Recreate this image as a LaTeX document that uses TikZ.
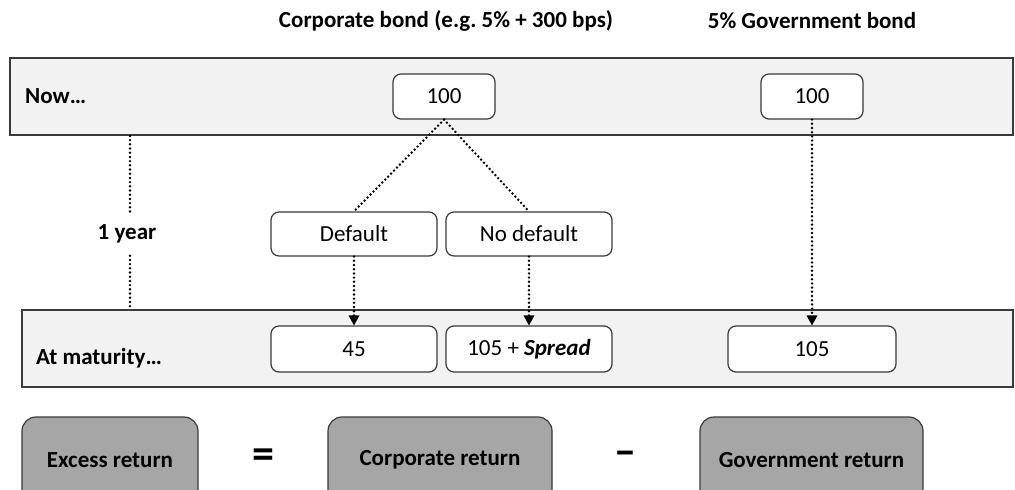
\documentclass[tikz,border=0pt]{standalone}
\usepackage{fontspec}
\setmainfont{Carlito}
\usetikzlibrary{arrows.meta,calc}
\definecolor{bandfill}{HTML}{F2F2F2}
\definecolor{edge}{HTML}{3A3A3A}
\definecolor{resfill}{HTML}{A6A6A6}
\tikzset{
  band/.style={draw=edge,line width=1.8pt,fill=bandfill,rectangle,inner sep=0pt},
  valbox/.style={draw=edge,line width=1.2pt,fill=white,rounded corners=8pt,inner sep=0pt,font=\fontsize{23}{27}\selectfont},
  resbox/.style={draw=edge,line width=1.2pt,fill=resfill,rounded corners=14pt,inner sep=0pt,minimum height=86pt,font=\bfseries\fontsize{23}{27}\selectfont},
  lbl/.style={inner sep=0pt,font=\bfseries\fontsize{23}{27}\selectfont},
  dotline/.style={line width=2.7pt,dash pattern=on 0pt off 4.2pt,line cap=round},
  dotarrow/.style={dotline,-{Triangle[width=11pt,length=10pt,line cap=butt,line width=0pt]}},
}
\frenchspacing
\begin{document}
\begin{tikzpicture}[x=1pt,y=-1pt]
\useasboundingbox (0,0) rectangle (1015,490);
\clip (0,0) rectangle (1015,490);
% titles
\node[lbl] (t1) at (446,21) {Corporate bond (e.g. 5\% + 300 bps)};
\node[lbl] (t2) at (812,21) {5\% Government bond};
% bands
\node[band,minimum width=1003pt,minimum height=77pt] (nowband) at (511.5,96.5) {};
\node[lbl,anchor=west] (nowl) at (25,96.5) {Now…};
\node[band,minimum width=991pt,minimum height=77pt] (matband) at (517.5,348.5) {};
\node[lbl,anchor=west] (matl) at (36,358) {At maturity…};
% value boxes
\node[valbox,minimum width=102pt,minimum height=45pt] (c100) at (444,96.5) {100};
\node[valbox,minimum width=102pt,minimum height=45pt] (g100) at (812,96.5) {100};
\node[valbox,minimum width=166pt,minimum height=44pt] (def) at (354,234) {Default};
\node[valbox,minimum width=166pt,minimum height=44pt] (nodef) at (529,234) {No default};
\node[valbox,minimum width=166pt,minimum height=46pt] (m45) at (354,349) {45};
\node[valbox,minimum width=166pt,minimum height=46pt] (mspread) at (529,349) {105 + \textbf{\textit{Spread}}};
\node[valbox,minimum width=168pt,minimum height=46pt] (m105) at (812,349) {105};
% 1 year
\node[lbl,minimum height=43pt] (year) at (127,234) {1 year};
\draw[dotline] (nowband.south -| 130,0) -- (year.north -| 130,0);
\draw[dotline] (year.south -| 130,0) -- (matband.north -| 130,0);
% connectors
\draw[dotline] (c100.south) -- (def.north);
\draw[dotline] (c100.south) -- (nodef.north);
\draw[dotarrow] (def.south) -- (m45.north);
\draw[dotarrow] (nodef.south) -- (mspread.north);
\draw[dotarrow] (g100.south) -- (m105.north);
% result boxes
\node[resbox,minimum width=176pt] (ex) at (110,460) {Excess return};
\node[resbox,minimum width=224pt] (corp) at (440,460) {Corporate return};
\node[resbox,minimum width=223pt] (gov) at (811.5,460) {Government return};
\node[inner sep=0pt,font=\bfseries\fontsize{44}{44}\selectfont] (eq) at (263,459) {=};
\node[inner sep=0pt,font=\bfseries\fontsize{44}{44}\selectfont] (minus) at (625,458) {–};
\end{tikzpicture}
\end{document}
